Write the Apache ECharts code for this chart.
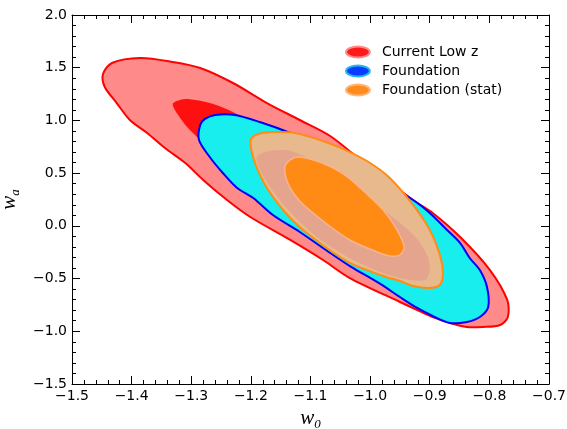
<!DOCTYPE html>
<html><head><meta charset="utf-8">
<script src="https://cdn.jsdelivr.net/npm/echarts/dist/echarts.min.js"></script>
<style>html,body{margin:0;padding:0;background:#fff}#c{width:567px;height:429px}</style>
</head><body><div id="c"></div>
<script>
// Axis ranges / ticks
const xRange = [-1.5, -0.7];
const yRange = [-1.5, 2.0];
const xStep = 0.1;
const yStep = 0.5;

// Legend entries
const legendNames = ['Current Low z', 'Foundation', 'Foundation (stat)'];

// Contours (w0, wa)
const lowz2sigma = [[-1.448,1.440],[-1.433,1.545],[-1.386,1.592],[-1.331,1.554],[-1.285,1.497],[-1.230,1.355],[-1.173,1.165],[-1.118,1.004],[-1.067,0.852],[-1.012,0.606],[-0.928,0.245],[-0.895,0.122],[-0.849,-0.106],[-0.799,-0.419],[-0.770,-0.703],[-0.769,-0.865],[-0.782,-0.940],[-0.811,-0.959],[-0.838,-0.959],[-0.866,-0.921],[-0.895,-0.865],[-0.921,-0.798],[-0.950,-0.722],[-1.034,-0.495],[-1.079,-0.324],[-1.134,-0.134],[-1.201,0.084],[-1.240,0.245],[-1.280,0.435],[-1.310,0.596],[-1.344,0.738],[-1.374,0.881],[-1.403,1.004],[-1.425,1.165],[-1.445,1.317]];
const lowz1sigma = [[-1.331,1.156],[-1.319,1.194],[-1.305,1.203],[-1.269,1.165],[-1.230,1.080],[-1.185,0.928],[-1.118,0.720],[-1.034,0.388],[-0.950,0.008],[-0.908,-0.276],[-0.900,-0.438],[-0.911,-0.514],[-0.950,-0.466],[-1.034,-0.248],[-1.118,0.029],[-1.185,0.312],[-1.235,0.530],[-1.269,0.701],[-1.285,0.814],[-1.307,0.938],[-1.322,1.051]];
const found2sigma = [[-1.285,0.957],[-1.277,1.014],[-1.260,1.051],[-1.227,1.051],[-1.185,0.985],[-1.134,0.881],[-1.062,0.701],[-1.012,0.530],[-0.967,0.369],[-0.928,0.245],[-0.900,0.122],[-0.871,-0.039],[-0.849,-0.163],[-0.833,-0.305],[-0.816,-0.419],[-0.804,-0.580],[-0.802,-0.770],[-0.816,-0.865],[-0.838,-0.912],[-0.866,-0.921],[-0.895,-0.855],[-0.921,-0.779],[-0.950,-0.675],[-0.983,-0.551],[-1.034,-0.381],[-1.067,-0.257],[-1.118,-0.058],[-1.163,0.103],[-1.196,0.264],[-1.223,0.359],[-1.247,0.501],[-1.269,0.653],[-1.287,0.814]];
const stat2sigma = [[-1.201,0.795],[-1.195,0.852],[-1.181,0.881],[-1.155,0.890],[-1.126,0.881],[-1.084,0.814],[-1.042,0.720],[-1.000,0.596],[-0.967,0.454],[-0.928,0.198],[-0.900,-0.039],[-0.883,-0.276],[-0.878,-0.447],[-0.883,-0.561],[-0.900,-0.589],[-0.928,-0.570],[-0.950,-0.523],[-0.978,-0.476],[-1.034,-0.352],[-1.089,-0.144],[-1.134,0.075],[-1.173,0.359],[-1.193,0.596]];
const statOverlap = [[-1.190,0.653],[-1.176,0.701],[-1.134,0.710],[-1.067,0.530],[-1.000,0.245],[-0.950,0.029],[-0.920,-0.134],[-0.903,-0.295],[-0.900,-0.419],[-0.908,-0.514],[-0.942,-0.504],[-0.978,-0.447],[-1.034,-0.305],[-1.089,-0.106],[-1.131,0.112],[-1.168,0.369],[-1.186,0.549]];
const stat1sigma = [[-1.143,0.558],[-1.134,0.625],[-1.121,0.653],[-1.101,0.634],[-1.076,0.587],[-1.042,0.482],[-1.009,0.321],[-0.978,0.150],[-0.955,-0.039],[-0.943,-0.201],[-0.950,-0.276],[-0.967,-0.286],[-0.992,-0.239],[-1.034,-0.134],[-1.079,0.046],[-1.118,0.236],[-1.138,0.407]];

function polySeries(name, pts, fill, stroke, lw, smooth) {
  return {
    type: 'custom', name: name, coordinateSystem: 'cartesian2d',
    xAxisIndex: 0, yAxisIndex: 0, data: pts, encode: {x: 0, y: 1},
    silent: true, animation: false,
    itemStyle: {color: fill},
    renderItem: function (params, api) {
      if (params.dataIndex !== 0) return null;
      const points = pts.map(function (p) { return api.coord(p); });
      return {
        type: 'polygon',
        shape: {points: points, smooth: smooth},
        style: {fill: fill, stroke: stroke || null, lineWidth: lw || 0, lineJoin: 'round'}
      };
    }
  };
}

const fmt = function (v) { return v.toFixed(1).replace('-', '\u2212'); };
const tickFont = {fontFamily: 'DejaVu Sans', fontSize: 14, color: '#000'};
const axisCommon = {
  type: 'value', splitLine: {show: false},
  axisLine: {show: true, onZero: false, lineStyle: {color: '#000', width: 1}},
  axisTick: {show: true, inside: true, length: 8, lineStyle: {color: '#000', width: 1}},
  minorTick: {show: true, splitNumber: 5, length: 4, lineStyle: {color: '#000', width: 1}}
};
const mathRich = {
  w: {fontFamily: 'Liberation Serif', fontStyle: 'italic', fontSize: 21, lineHeight: 26, verticalAlign: 'middle', color: '#000'},
  s: {fontFamily: 'Liberation Serif', fontStyle: 'italic', fontSize: 13, lineHeight: 13, verticalAlign: 'bottom', color: '#000'}
};
const ellipse = 'path://M0,6 A13,6 0 1,0 26,6 A13,6 0 1,0 0,6 Z';

const chart = echarts.init(document.getElementById('c'), null, {renderer: 'canvas'});
chart.setOption({
  animation: false,
  backgroundColor: '#fff',
  grid: {left: 72, right: 18, top: 15, bottom: 45, containLabel: false, outerBoundsMode: 'none'},
  xAxis: [
    Object.assign({}, axisCommon, {
      position: 'bottom', min: xRange[0], max: xRange[1], interval: xStep,
      axisLabel: Object.assign({margin: 5, formatter: fmt}, tickFont),
      name: '{w|w}{s|0}', nameLocation: 'middle', nameGap: 21,
      nameTextStyle: {rich: mathRich}
    }),
    Object.assign({}, axisCommon, {
      position: 'top', min: xRange[0], max: xRange[1], interval: xStep,
      axisLabel: {show: false}
    })
  ],
  yAxis: [
    Object.assign({}, axisCommon, {
      position: 'left', min: yRange[0], max: yRange[1], interval: yStep,
      axisLabel: Object.assign({margin: 5, formatter: fmt}, tickFont),
      name: '{w|w}{s|a}', nameLocation: 'middle', nameGap: 44, nameRotate: 90,
      nameTextStyle: {rich: mathRich}
    }),
    Object.assign({}, axisCommon, {
      position: 'right', min: yRange[0], max: yRange[1], interval: yStep,
      axisLabel: {show: false}
    })
  ],
  legend: {
    orient: 'vertical', left: 345, top: 45, padding: 0, itemWidth: 26, itemHeight: 11, itemGap: 5,
    selectedMode: false,
    textStyle: {fontFamily: 'DejaVu Sans', fontSize: 14, color: '#000', lineHeight: 14, padding: [0, 0, 0, 6]},
    data: [
      {name: legendNames[0], icon: ellipse, itemStyle: {color: '#ff1a1a', borderColor: '#ff8a8a', borderWidth: 2}},
      {name: legendNames[1], icon: ellipse, itemStyle: {color: '#0a3cff', borderColor: '#2ab4f0', borderWidth: 2}},
      {name: legendNames[2], icon: ellipse, itemStyle: {color: '#ff8c1a', borderColor: '#ffb27a', borderWidth: 2}}
    ]
  },
  series: [
    polySeries(legendNames[0], lowz2sigma, '#ff8a8a', '#ff0000', 2, 0.3),
    polySeries(legendNames[0], lowz1sigma, '#ff1010', null, 0, 0.3),
    polySeries(legendNames[1], found2sigma, '#19eeee', '#0000ff', 2, 0.3),
    polySeries(legendNames[2], stat2sigma, '#e8b98c', '#ff8c14', 2, 0.3),
    polySeries(legendNames[2], statOverlap, '#e4a48e', null, 0, 0.3),
    polySeries(legendNames[2], stat1sigma, '#ff8a14', '#f8b48e', 1.5, 0.3)
  ]
});
</script>
</body></html>
